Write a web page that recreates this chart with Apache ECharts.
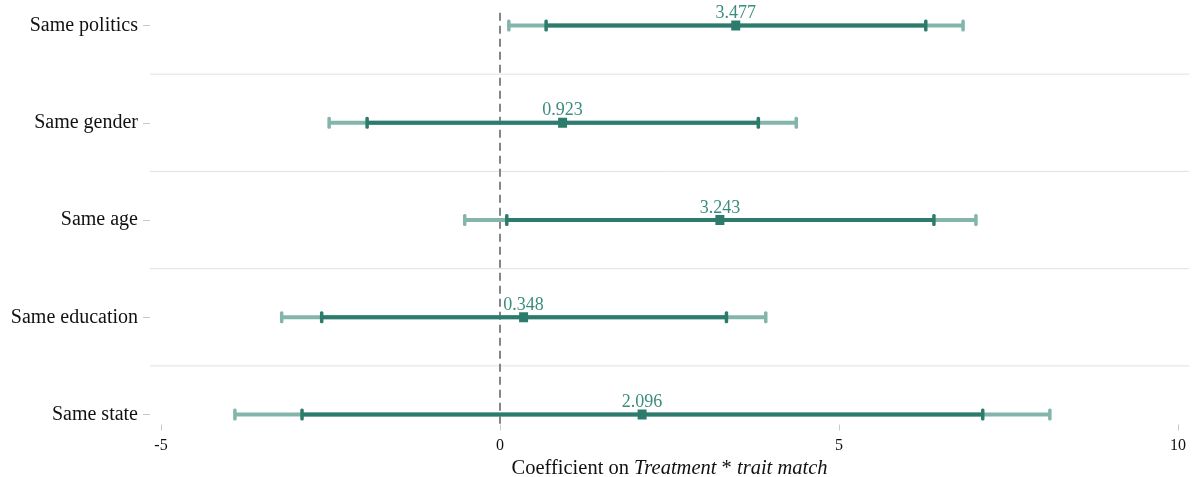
<!DOCTYPE html>
<html>
<head>
<meta charset="utf-8">
<script src="https://cdn.jsdelivr.net/npm/echarts@6/dist/echarts.min.js"></script>
<style>
html,body{margin:0;padding:0;background:#fff;}
#main{width:1196px;height:477px;}
</style>
</head>
<body>
<div id="main"></div>
<script>
// ---- data (top to bottom) ----
const categories = ['Same politics', 'Same gender', 'Same age', 'Same education', 'Same state'];
const estimates  = [3.477, 0.923, 3.243, 0.348, 2.096];
const innerLow   = [0.68, -1.96, 0.10, -2.63, -2.92];
const innerHigh  = [6.28, 3.81, 6.40, 3.34, 7.12];
const outerLow   = [0.13, -2.52, -0.52, -3.22, -3.91];
const outerHigh  = [6.83, 4.37, 7.02, 3.92, 8.11];
const xTickValues = [-5, 0, 5, 10];
const separators = [0.5, 1.5, 2.5, 3.5];
const referenceLine = [0];

const FONT = "'Liberation Serif', 'Times New Roman', serif";
const DARK = '#2c7b6c';
const LIGHT = '#84b5ab';
const LABEL = '#3b8c7c';

const rows = categories.map((c, i) => [i, estimates[i], innerLow[i], innerHigh[i], outerLow[i], outerHigh[i]]);

const chart = echarts.init(document.getElementById('main'), null, {renderer: 'canvas'});

function bars(params, api) {
  const y = api.value(0);
  const p = api.coord([api.value(1), y]);
  const il = api.coord([api.value(2), y]);
  const ih = api.coord([api.value(3), y]);
  const ol = api.coord([api.value(4), y]);
  const oh = api.coord([api.value(5), y]);
  const cy = p[1];
  const lw = 4, capH = 12, capW = 3.5;
  const children = [];
  children.push({type: 'line', shape: {x1: ol[0], y1: cy, x2: oh[0], y2: cy}, style: {stroke: LIGHT, lineWidth: lw}});
  [ol, oh].forEach(pt => children.push({type: 'rect', shape: {x: pt[0] - capW / 2, y: cy - capH / 2, width: capW, height: capH, r: 1.5}, style: {fill: LIGHT}}));
  children.push({type: 'line', shape: {x1: il[0], y1: cy, x2: ih[0], y2: cy}, style: {stroke: DARK, lineWidth: lw}});
  [il, ih].forEach(pt => children.push({type: 'rect', shape: {x: pt[0] - capW / 2, y: cy - capH / 2, width: capW, height: capH, r: 1.5}, style: {fill: DARK}}));
  children.push({type: 'rect', shape: {x: p[0] - 4.5, y: cy - 5, width: 9, height: 10}, style: {fill: DARK}});
  children.push({type: 'text', style: {x: p[0], y: cy - 12, text: api.value(1).toFixed(3), fill: LABEL, font: '18px ' + FONT, align: 'center', verticalAlign: 'middle'}});
  return {type: 'group', children};
}

const option = {
  backgroundColor: '#fff',
  animation: false,
  grid: {left: 161, right: 18, top: 25.5, bottom: 62.5, containLabel: false, outerBoundsMode: 'none'},
  xAxis: {
    type: 'value', min: -5, max: 10, interval: 5, offset: 10,
    axisLine: {show: false, onZero: false},
    axisTick: {show: true, length: 6, lineStyle: {color: '#c8c8c8', width: 1}},
    splitLine: {show: false},
    axisLabel: {color: '#111', fontFamily: FONT, fontSize: 16, margin: 13,
      formatter: v => xTickValues.includes(v) ? String(v) : ''},
    name: '{n|Coefficient on }{i|Treatment}{n| * }{i|trait match}',
    nameLocation: 'middle', nameGap: 32,
    nameTextStyle: {
      rich: {
        n: {fontFamily: FONT, fontSize: 20.5, color: '#111'},
        i: {fontFamily: FONT, fontSize: 20.5, color: '#111', fontStyle: 'italic'}
      }
    }
  },
  yAxis: {
    type: 'value', min: 0, max: 4, interval: 1, inverse: true, offset: 11,
    axisLine: {show: false, onZero: false},
    axisTick: {show: true, length: 7, lineStyle: {color: '#c8c8c8', width: 1}},
    splitLine: {show: false},
    axisLabel: {color: '#111', fontFamily: FONT, fontSize: 20, margin: 12,
      formatter: v => categories[v] || ''}
  },
  series: [
    {
      type: 'custom', clip: false, silent: true,
      data: separators.map(v => [v]),
      renderItem: (params, api) => {
        const a = api.coord([-5, api.value(0)]);
        const b = api.coord([10, api.value(0)]);
        return {type: 'line', shape: {x1: a[0] - 11, y1: a[1], x2: b[0] + 11, y2: b[1]}, style: {stroke: '#e0e0e0', lineWidth: 1}};
      },
      encode: {y: 0}
    },
    {
      type: 'custom', clip: false, silent: true,
      data: referenceLine.map(v => [v]),
      renderItem: (params, api) => {
        const a = api.coord([api.value(0), -0.13]);
        const b = api.coord([api.value(0), 4.11]);
        return {type: 'line', shape: {x1: a[0], y1: a[1], x2: b[0], y2: b[1]}, style: {stroke: '#858585', lineWidth: 2, lineDash: [8, 5]}};
      },
      encode: {x: 0}
    },
    {
      type: 'custom', clip: false,
      data: rows,
      renderItem: bars,
      encode: {y: 0, x: [1, 2, 3, 4, 5]}
    }
  ]
};
chart.setOption(option);
</script>
</body>
</html>
